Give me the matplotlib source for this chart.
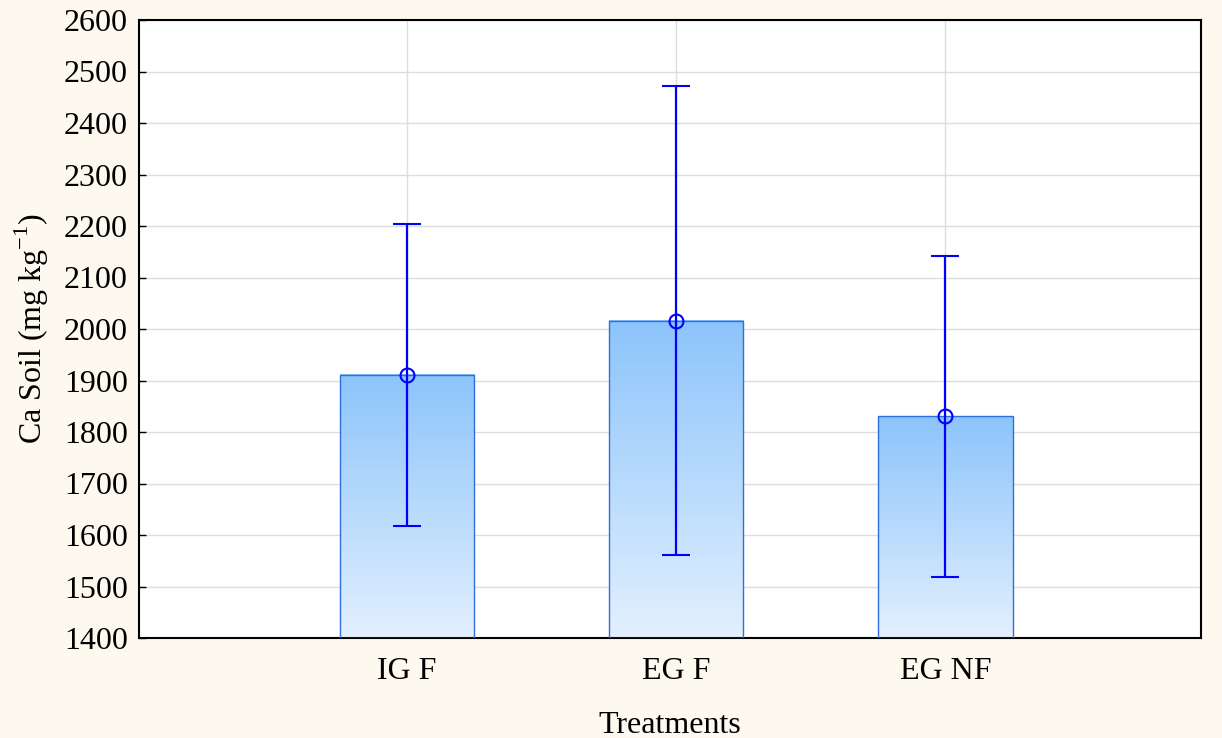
import numpy as np
import matplotlib
matplotlib.use('Agg')
from matplotlib import pyplot as plt
from matplotlib.colors import LinearSegmentedColormap

## data
treatments = ['IG F', 'EG F', 'EG NF']
means = [1911, 2016, 1831]
upper = [2203, 2471, 2141]
lower = [1618, 1561, 1519]

plt.rcParams['font.family'] = ['Liberation Serif', 'DejaVu Serif']

fig = plt.figure(figsize=(12.22, 7.38), dpi=100)
fig.patch.set_facecolor('#fef9ee')
ax = fig.add_axes([139/1222, 1 - 638/738, 1062/1222, 618/738])
ax.set_facecolor('white')

x = np.arange(len(treatments))
ymin, ymax = 1400, 2600

bars = ax.bar(x, np.array(means) - ymin, width=0.5, bottom=ymin,
              facecolor='none', edgecolor='#2d6fe0', linewidth=1.0, zorder=3)

# gradient fill for each bar
cmap = LinearSegmentedColormap.from_list('grad', ['#e3f0fe', '#8cc4fb'])
grad = np.linspace(0, 1, 256).reshape(-1, 1)
for b in bars:
    x0, y0 = b.get_x(), b.get_y()
    w, h = b.get_width(), b.get_height()
    ax.imshow(grad, cmap=cmap, aspect='auto', origin='lower',
              extent=[x0, x0 + w, y0, y0 + h], zorder=2)

yerr = [np.array(means) - np.array(lower), np.array(upper) - np.array(means)]
ax.errorbar(x, means, yerr=yerr, fmt='o', mfc='none', mec='#0000ff', ms=10,
            mew=1.5, ecolor='#0000ff', elinewidth=1.6, capsize=10, capthick=1.6,
            zorder=4)

ax.set_xlim(-0.995, 2.95)
ax.set_ylim(ymin, ymax)
ax.set_yticks(np.arange(1400, 2601, 100))
ax.set_xticks(x)
ax.set_xticklabels(treatments)
ax.grid(True, color='#dddddd', linewidth=1.0, zorder=0)
ax.set_axisbelow(True)
ax.tick_params(direction='in', length=5, width=1, labelsize=23, pad=8)
ax.tick_params(axis='x', pad=14)
for s in ax.spines.values():
    s.set_linewidth(1.5)

ax.set_xlabel('Treatments', fontsize=23, labelpad=18)
ax.set_ylabel('Ca Soil (mg kg$^{\\mathregular{-1}}$)', fontsize=23, labelpad=9)

plt.savefig('out.png', dpi=100, facecolor=fig.get_facecolor())
